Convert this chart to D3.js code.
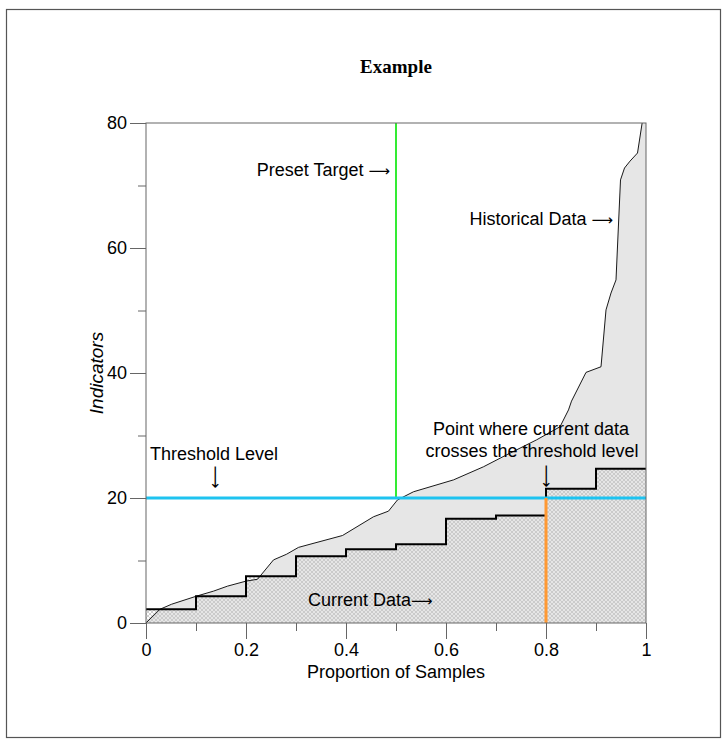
<!DOCTYPE html>
<html>
<head>
<meta charset="utf-8">
<script src="https://cdn.jsdelivr.net/npm/d3@7"></script>
<style>
  html, body { margin: 0; padding: 0; background: #fff; }
  svg { display: block; }
  text { font-family: "Liberation Sans", Arial, sans-serif; fill: #000; }
  .arr { font-family: "DejaVu Sans", sans-serif; }
</style>
</head>
<body>
<svg id="chart" width="727" height="744"></svg>
<script>
// ---- data ----
const histX = [0, 0.028, 0.051, 0.101, 0.135, 0.163, 0.2, 0.223, 0.255, 0.281, 0.305, 0.328, 0.393, 0.455, 0.485, 0.503, 0.535, 0.615, 0.675, 0.721, 0.781, 0.828, 0.845, 0.851, 0.88, 0.91, 0.92, 0.93, 0.94, 0.949, 0.957, 0.968, 0.983, 1.0];
const histY = [0, 2.2, 3.0, 4.3, 5.1, 5.9, 6.7, 7.0, 10.1, 11.0, 12.1, 12.6, 14.0, 17.0, 17.9, 19.7, 21.0, 22.9, 25.0, 26.9, 29.3, 31.4, 34.1, 35.5, 40.1, 41.0, 50.1, 52.8, 54.9, 70.9, 72.8, 73.9, 75.2, 84];
const stepStarts = [0, 0.1, 0.2, 0.3, 0.4, 0.5, 0.6, 0.7, 0.8, 0.9];
const stepValues = [2.2, 4.3, 7.5, 10.7, 11.8, 12.6, 16.7, 17.2, 21.5, 24.7];
const thresholdLevel = 20;
const presetTarget = 0.5;
const crossingX = 0.8;
const xMajorTicks = [0, 0.2, 0.4, 0.6, 0.8, 1];
const xMajorLabels = ["0", "0.2", "0.4", "0.6", "0.8", "1"];
const xMinorTicks = [0.1, 0.3, 0.5, 0.7, 0.9];
const yMajorTicks = [0, 20, 40, 60, 80];
const yMajorLabels = ["0", "20", "40", "60", "80"];
const yMinorTicks = [10, 30, 50, 70];

// ---- layout ----
const svg = d3.select("#chart");
const L = 146, R = 646, T = 123, B = 623;
const x = d3.scaleLinear().domain([0, 1]).range([L, R]);
const y = d3.scaleLinear().domain([0, 80]).range([B, T]);
const axisColor = "#666";

// outer border
svg.append("rect").attr("x", 6.5).attr("y", 9.5).attr("width", 714).attr("height", 728)
  .attr("fill", "none").attr("stroke", "#555").attr("stroke-width", 1.2);

const defs = svg.append("defs");
defs.append("clipPath").attr("id", "plotclip").append("rect")
  .attr("x", L).attr("y", T).attr("width", R - L).attr("height", B - T);
const pat = defs.append("pattern").attr("id", "hatch").attr("patternUnits", "userSpaceOnUse")
  .attr("width", 4).attr("height", 4);
pat.append("path").attr("d", "M0,0 L4,4 M4,0 L0,4").attr("stroke", "#c4c4c4").attr("stroke-width", 0.8);

const plot = svg.append("g").attr("clip-path", "url(#plotclip)");

// historical data
const hist = histX.map((v, i) => [v, histY[i]]);
plot.append("path").datum(hist)
  .attr("d", d3.area().x(d => x(d[0])).y0(y(0)).y1(d => y(d[1])))
  .attr("fill", "#e6e6e6");

// current data step
const steps = stepStarts.map((s, i) => [s, stepValues[i]]);
steps.push([1, stepValues[stepValues.length - 1]]);
plot.append("path").datum(steps)
  .attr("d", d3.area().curve(d3.curveStepAfter).x(d => x(d[0])).y0(y(0)).y1(d => y(d[1])))
  .attr("fill", "url(#hatch)");

plot.append("path").datum(hist)
  .attr("d", d3.line().x(d => x(d[0])).y(d => y(d[1])))
  .attr("fill", "none").attr("stroke", "#000").attr("stroke-width", 0.9);

plot.append("path").datum(steps)
  .attr("d", d3.line().curve(d3.curveStepAfter).x(d => x(d[0])).y(d => y(d[1])))
  .attr("fill", "none").attr("stroke", "#000").attr("stroke-width", 2);

// reference lines
plot.append("line").attr("x1", x(presetTarget)).attr("x2", x(presetTarget))
  .attr("y1", y(thresholdLevel)).attr("y2", y(80))
  .attr("stroke", "#00e600").attr("stroke-width", 1.6);
plot.append("line").attr("x1", x(0)).attr("x2", x(1))
  .attr("y1", y(thresholdLevel)).attr("y2", y(thresholdLevel))
  .attr("stroke", "#1ec3f0").attr("stroke-width", 3);
plot.append("line").attr("x1", x(crossingX)).attr("x2", x(crossingX))
  .attr("y1", y(0)).attr("y2", y(thresholdLevel))
  .attr("stroke", "#ff9933").attr("stroke-width", 3);

// frame
svg.append("rect").attr("x", L).attr("y", T).attr("width", R - L).attr("height", B - T)
  .attr("fill", "none").attr("stroke", axisColor).attr("stroke-width", 1);

// axes
function styleAxis(g) {
  g.selectAll(".domain").remove();
  g.selectAll("line").attr("stroke", axisColor);
}
const xAx = svg.append("g").attr("transform", `translate(0,${B})`)
  .call(d3.axisBottom(x).tickValues(xMajorTicks).tickSize(16).tickPadding(4)
    .tickFormat((d, i) => xMajorLabels[i]));
styleAxis(xAx);
xAx.selectAll("text").attr("font-size", 18).attr("font-family", "Liberation Sans, Arial, sans-serif").attr("fill", "#000");
const xAxMin = svg.append("g").attr("transform", `translate(0,${B})`)
  .call(d3.axisBottom(x).tickValues(xMinorTicks).tickSize(8).tickFormat(""));
styleAxis(xAxMin);

const yAx = svg.append("g").attr("transform", `translate(${L},0)`)
  .call(d3.axisLeft(y).tickValues(yMajorTicks).tickSize(16).tickPadding(3)
    .tickFormat((d, i) => yMajorLabels[i]));
styleAxis(yAx);
yAx.selectAll("text").attr("font-size", 18).attr("font-family", "Liberation Sans, Arial, sans-serif").attr("fill", "#000");
const yAxMin = svg.append("g").attr("transform", `translate(${L},0)`)
  .call(d3.axisLeft(y).tickValues(yMinorTicks).tickSize(8).tickFormat(""));
styleAxis(yAxMin);

// titles
svg.append("text").attr("x", (L + R) / 2).attr("y", 73).attr("text-anchor", "middle")
  .style("font-family", "'Liberation Serif', 'Times New Roman', serif")
  .attr("font-weight", "bold").attr("font-size", 19).text("Example");
svg.append("text").attr("x", (L + R) / 2).attr("y", 678).attr("text-anchor", "middle")
  .attr("font-size", 18).text("Proportion of Samples");
svg.append("text").attr("transform", `translate(103,${(T + B) / 2}) rotate(-90)`)
  .attr("text-anchor", "middle").attr("font-size", 19).attr("font-style", "italic").text("Indicators");

// annotations
function note(txt, arrow, xx, yy, anchor) {
  const t = svg.append("text").attr("x", xx).attr("y", yy).attr("text-anchor", anchor)
    .attr("font-size", 18);
  if (txt) t.append("tspan").text(txt);
  if (arrow) t.append("tspan").attr("class", "arr").attr("font-size", 15).text(arrow);
}
function downArrow(xx, yy) {
  svg.append("text").attr("class", "arr").attr("font-size", 16)
    .attr("text-anchor", "middle").attr("dy", "0.31em")
    .attr("transform", `translate(${xx},${yy}) rotate(90)`)
    .text("\u27F6");
}
note("Preset Target ", "\u27F6", 390, 176, "end");
note("Historical Data ", "\u27F6", 613, 225, "end");
note("Threshold Level", null, 150, 460, "start");
downArrow(215, 477);
note("Point where current data", null, 531, 435, "middle");
note("crosses the threshold level", null, 532, 457, "middle");
downArrow(546, 476);
note("Current Data", "\u27F6", 308, 606, "start");
</script>
</body>
</html>
